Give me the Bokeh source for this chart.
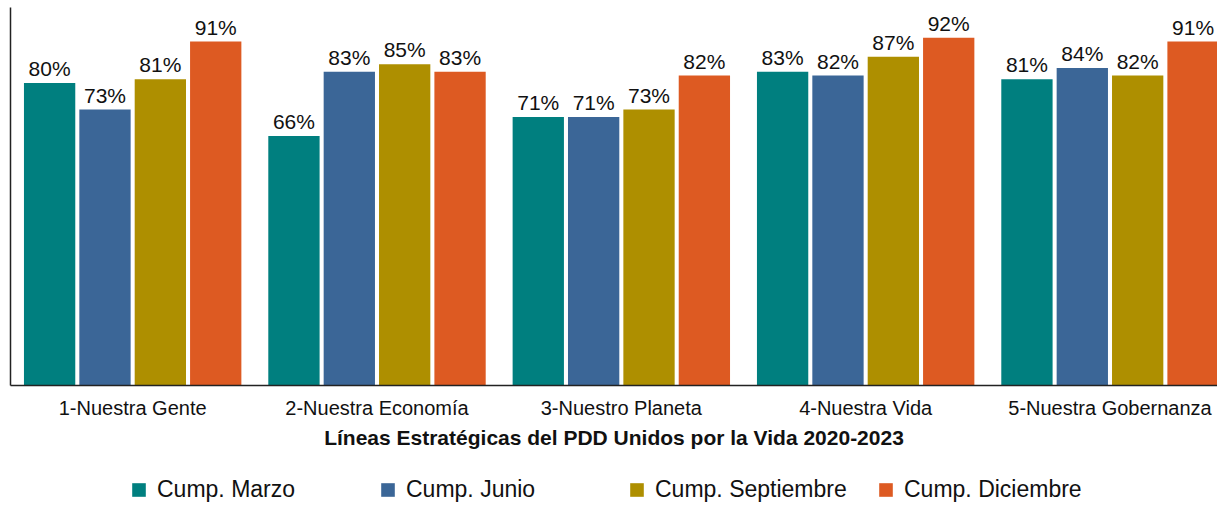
from bokeh.plotting import figure
from bokeh.layouts import column
from bokeh.models import Range1d, FixedTicker, Legend, LegendItem, ColumnDataSource
from bokeh.embed import file_html
from bokeh.resources import INLINE

categories = ["1-Nuestra Gente", "2-Nuestra Economía", "3-Nuestro Planeta",
              "4-Nuestra Vida", "5-Nuestra Gobernanza"]
series_names = ["Cump. Marzo", "Cump. Junio", "Cump. Septiembre", "Cump. Diciembre"]
marzo = [80, 66, 71, 83, 81]
junio = [73, 83, 71, 82, 84]
septiembre = [81, 85, 73, 87, 82]
diciembre = [91, 83, 82, 92, 91]
colors = ["#007f7f", "#3b6697", "#ae8f00", "#dd5a22"]
x_title = "Líneas Estratégicas del PDD Unidos por la Vida 2020-2023"

FONT = "Liberation Sans"

p = figure(width=1217, height=460, output_backend="svg", toolbar_location=None,
           x_range=Range1d(0, 4.94), y_range=Range1d(0, 100),
           min_border_left=10, min_border_right=0, min_border_top=7,
           min_border_bottom=75)
p.outline_line_color = None
p.xgrid.visible = False
p.ygrid.visible = False
p.background_fill_color = "white"
p.border_fill_color = "white"

# legend strip (separate figure under the chart)
lg = figure(width=1217, height=45, output_backend="svg", toolbar_location=None,
            x_range=Range1d(-20, -19), y_range=Range1d(0, 100),
            x_axis_location=None, y_axis_location=None,
            min_border_left=0, min_border_right=0, min_border_top=0,
            min_border_bottom=0)
lg.outline_line_color = None
lg.xgrid.visible = False
lg.ygrid.visible = False

step = 0.2266
bw = 0.21
offsets = [-1.5 * step, -0.5 * step, 0.5 * step, 1.5 * step]
all_series = [marzo, junio, septiembre, diciembre]
items = []
for vals, col, off, name in zip(all_series, colors, offsets, series_names):
    xs = [i + 0.5 + off for i in range(len(categories))]
    src = ColumnDataSource(dict(x=xs, top=vals, lab=[f"{v}%" for v in vals]))
    p.vbar(x="x", top="top", width=bw, bottom=0, source=src,
           fill_color=col, line_color=None)
    p.text(x="x", y="top", text="lab", source=src, text_align="center",
           text_baseline="bottom", y_offset=-3, text_font_size="21px",
           text_font={"value": FONT}, text_color="#111111")
    # same data in the legend strip (its x range keeps the bars out of view)
    r = lg.vbar(x="x", top="top", width=bw, bottom=0, source=src,
                fill_color=col, line_color=None)
    items.append(LegendItem(label=name, renderers=[r]))

# axes
p.yaxis.major_tick_line_color = None
p.yaxis.minor_tick_line_color = None
p.yaxis.major_label_text_font_size = "0px"
p.yaxis.major_label_text_color = None
p.yaxis.axis_line_color = "#222222"
p.yaxis.axis_line_width = 1.5

p.xaxis.ticker = FixedTicker(ticks=[i + 0.5 for i in range(len(categories))])
p.xaxis.major_label_overrides = {i + 0.5: c for i, c in enumerate(categories)}
p.xaxis.major_tick_line_color = None
p.xaxis.minor_tick_line_color = None
p.xaxis.axis_line_color = "#222222"
p.xaxis.axis_line_width = 1.5
p.xaxis.major_label_text_font = FONT
p.xaxis.major_label_text_font_size = "20px"
p.xaxis.major_label_text_color = "#111111"
p.xaxis.major_label_standoff = 5
p.xaxis.axis_label = x_title
p.xaxis.axis_label_text_font = FONT
p.xaxis.axis_label_text_font_size = "21px"
p.xaxis.axis_label_text_font_style = "bold"
p.xaxis.axis_label_text_color = "#111111"
p.xaxis.axis_label_standoff = 4

legend = Legend(items=items, orientation="horizontal", location=(120, 2),
                glyph_width=17, glyph_height=17, label_standoff=10,
                label_width=222, spacing=0, padding=0, margin=0,
                label_text_font=FONT, label_text_font_size="23px",
                label_text_color="#111111", border_line_color=None,
                background_fill_alpha=0)
lg.add_layout(legend, "center")

layout = column(p, lg)
open("out.html", "w").write(file_html(layout, INLINE))
